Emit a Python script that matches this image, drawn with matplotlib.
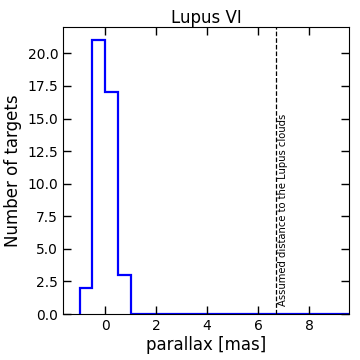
import numpy as np
import matplotlib
matplotlib.use("Agg")
import matplotlib.pyplot as plt

# histogram of parallaxes (bin width 0.5 mas)
bin_edges = [-1.0, -0.5, 0.0, 0.5, 1.0, 1.5, 2.0, 2.5, 3.0, 3.5, 4.0, 4.5,
             5.0, 5.5, 6.0, 6.5, 7.0, 7.5, 8.0, 8.5, 9.0, 9.5, 10.0]
counts = [2, 21, 17, 3, 0, 0, 0, 0, 0, 0, 0, 0, 0, 0, 0, 0, 0, 0, 0, 0, 0, 0]
lupus_parallax = 6.7
xticks = [0, 2, 4, 6, 8]
yticks = [0.0, 2.5, 5.0, 7.5, 10.0, 12.5, 15.0, 17.5, 20.0]

fig = plt.figure(figsize=(3.6, 3.6), dpi=100)
ax = fig.add_axes([63 / 360, 46 / 360, 286 / 360, 287.3 / 360])

ax.stairs(counts, bin_edges, color="blue", linewidth=1.6)
ax.axvline(lupus_parallax, color="black", linestyle="--", linewidth=0.9)
ax.text(lupus_parallax + 0.08, 0.6, "Assumed distance to the Lupus clouds",
        rotation=90, ha="left", va="bottom", fontsize=7.2)

ax.set_xlim(-1.65, 9.57)
ax.set_ylim(0, 22.05)
ax.set_xticks(xticks)
ax.set_yticks(yticks)
ax.set_yticklabels([f"{v:.1f}" for v in yticks])
ax.tick_params(direction="in", top=True, right=True, length=6, width=1,
               labelsize=10)
ax.tick_params(axis="x", labeltop=False)
ax.tick_params(axis="y", labelright=False)

ax.set_xlabel("parallax [mas]", fontsize=12, labelpad=2)
ax.set_ylabel("Number of targets", fontsize=12)
ax.set_title("Lupus VI", fontsize=12, pad=3)

fig.savefig("out.png", dpi=100)
